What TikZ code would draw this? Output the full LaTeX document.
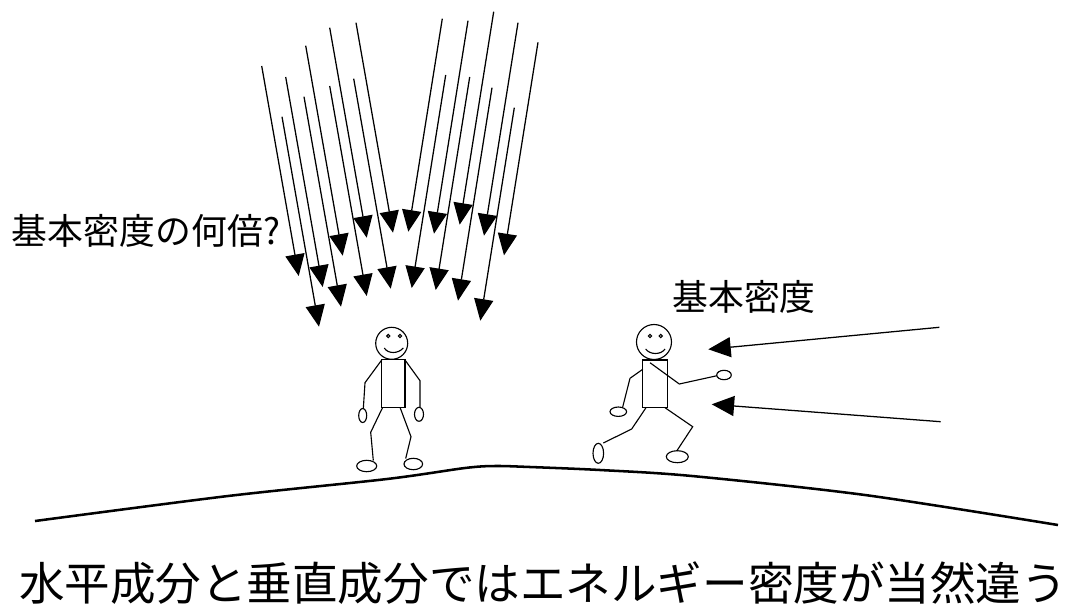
\documentclass[tikz,border=0pt]{standalone}
\usepackage{fontspec}
\newfontfamily\jpfont{Noto Sans CJK JP}
\usetikzlibrary{arrows.meta}
\tikzset{>={Triangle[length=5.4mm,width=4.8mm]}}
\tikzset{rain/.style={->,line width=0.9pt}}
\tikzset{wind/.style={-{Triangle[length=5.6mm,width=5mm]},line width=0.9pt}}
\tikzset{stick/.style={line width=0.8pt}}
\tikzset{label/.style={font=\jpfont\fontsize{25.5}{30}\selectfont}}

\begin{document}
\begin{tikzpicture}[x=0.025cm,y=-0.025cm]
				\useasboundingbox (0,0) rectangle (1079,607);
				% ground
				\draw[line width=1.8pt] plot[smooth,tension=0.5] coordinates {(35,521) (228,496) (387,479) (465,468) (495,466) (530,467) (600,470) (692,476) (865,495) (1058,525)};
				
				% rain falling from both sides
				\foreach \x/\y in {261.7/66,282/116.7,285.7/77,304/96.7,305.7/45.7,329.7/86,329.7/27.7,353.7/78.7,356/22.7}
					\draw[rain] (\x,\y) -- ++(37,210);
				\foreach \x/\y in {442.3/18.7,445.7/75,468/20.7,469.7/77,493.7/11.7,492/87.7,518/22.7,514.3/107.7,538/42.3}
					\draw[rain] (\x,\y) -- ++(-34,213);
				
				% standing man
				\begin{scope}[stick]
				\draw (391.7,343.3) circle (16);
				\draw (388.3,336) circle (1.6) (400,336) circle (1.6);
				\draw (384.3,348) .. controls (388,354) and (398,354) .. (403.3,348);
				\draw (381.7,359.3) rectangle (405,407.3);
				\draw (381.7,360) -- (365,382.7) -- (363.3,409);
				\draw (362.7,415.5) ellipse [x radius=4,y radius=7];
				\draw (405,360) -- (420,380.7) -- (420,407);
				\draw (419,414.3) ellipse [x radius=4.5,y radius=7];
				\draw (382.7,407.3) -- (370.7,432.3) -- (373.3,460.5);
				\draw (366.7,466) ellipse [x radius=10,y radius=5.7];
				\draw (400,407.3) -- (411,436.7) -- (405.7,458.5);
				\draw (413.3,464) ellipse [x radius=9.3,y radius=5.7];
				\end{scope}
				
				% running man
				\begin{scope}[stick]
				\draw (654,342) circle (17.5);
				\draw (650,336) circle (1.6) (660.7,336) circle (1.6);
				\draw (645.7,349) .. controls (650,355) and (661,355) .. (665,349);
				\draw (642.7,360) rectangle (667.3,407.7);
				\draw (642.7,369.3) -- (630,378.3) -- (622.7,407);
				\draw (618.3,411.7) ellipse [x radius=8.3,y radius=4.7];
				\draw (650,362.7) -- (679.3,384) -- (717,375.7);
				\draw (724,375) ellipse [x radius=7.3,y radius=4.7];
				\draw (646,407.7) -- (631.7,429) -- (603.3,443);
				\draw (598.3,453.3) ellipse [x radius=5.3,y radius=10];
				\draw (665,407.7) -- (692.7,426.7) -- (676.7,451);
				\draw (677.3,456.7) ellipse [x radius=11,y radius=6];
				\end{scope}
				
				% wind from the right
				\coordinate (W1) at (939.3,327.3);
				\coordinate (W2) at (940.7,421.7);
				\coordinate (w1) at (708.3,349.3);
				\coordinate (w2) at (711.7,404.3);
				\draw[wind] (W1) -- (w1);
				\draw[wind] (W2) -- (w2);
				
				\node[label] (q) at (146,231) {基本密度の何倍?};
				\node[label] (d) at (744,297) {基本密度};
				\node[font=\jpfont\fontsize{32.4}{38}\selectfont] (s) at (543,583) {水平成分と垂直成分ではエネルギー密度が当然違う};
\end{tikzpicture}
\end{document}
